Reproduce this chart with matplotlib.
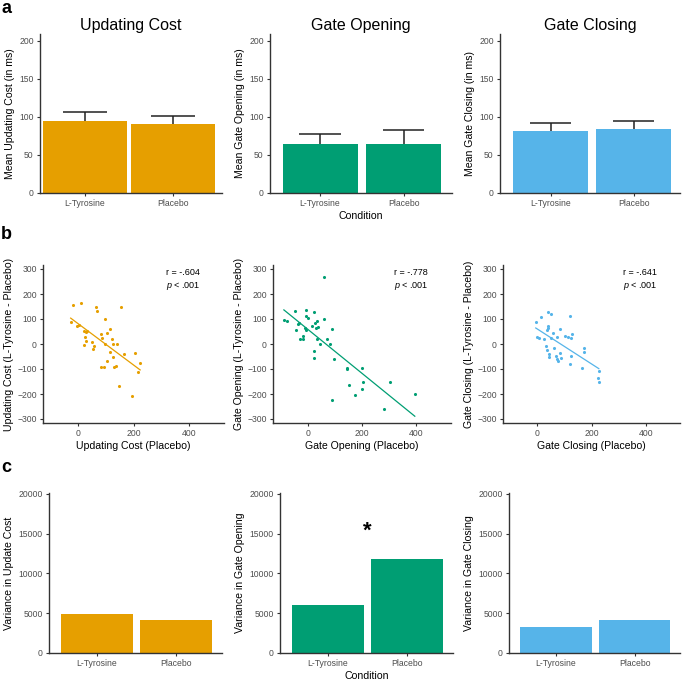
import numpy as np
import matplotlib
matplotlib.use('Agg')
import matplotlib.pyplot as plt

plt.rcParams['font.family'] = ['Liberation Sans', 'DejaVu Sans']
plt.rcParams['mathtext.fontset'] = 'custom'
plt.rcParams['mathtext.it'] = 'Liberation Sans:italic'
plt.rcParams['mathtext.rm'] = 'Liberation Sans'

# colours (Okabe-Ito)
cols = ['#E69F00', '#009E73', '#56B4E9']

conditions = ['L-Tyrosine', 'Placebo']
titles = ['Updating Cost', 'Gate Opening', 'Gate Closing']

# row a: means and upper error (mean + se)
mean_vals = [[95, 91], [64, 65], [82, 84]]
err_top = [[107, 101], [77, 83], [92, 94]]
mean_ylabels = ['Mean Updating Cost (in ms)', 'Mean Gate Opening (in ms)', 'Mean Gate Closing (in ms)']

# row b: scatter, x = placebo, y = L-Tyrosine - Placebo
upd_x = [-27, -18, 10, -4, 2, 22, 28, 33, 25, 30, 22, 51, 57, 53, 64, 67, 98, 81, 86, 98,
         105, 115, 121, 127, 139, 115, 125, 105, 81, 95, 131, 136, 155, 166, 147, 194, 205, 216, 224]
upd_y = [89, 156, 165, 72, 76, 52, 49, 53, 29, 13, -4, 9, -7, -20, 149, 133, 102, 40, 23, 0,
         45, 60, 19, -1, -1, -31, -51, -68, -93, -93, -93, -88, 149, -41, -168, -208, -35, -110, -75]
open_x = [-87, -75, -45, -42, -36, -30, -27, -15, -18, -6, -5, 2, -8, -4, 18, 24, 28, 33, 30, 39,
          36, 46, 22, 22, 61, 62, 73, 81, 91, 97, 91, 145, 145, 152, 176, 200, 204, 200, 303, 282, 394]
open_y = [96, 92, 132, 56, 80, 85, 19, 19, 32, 136, 114, 106, 63, 56, 73, 129, 85, 92, 63, 67,
          19, -1, -28, -55, 269, 100, 19, 0, 60, -60, -223, -97, -101, -164, -204, -97, -153, -181, -150, -261, -200]
close_x = [-6, -2, 6, 13, 26, 32, 37, 40, 38, 39, 37, 44, 44, 49, 50, 56, 61, 71, 68, 74,
           77, 83, 87, 83, 101, 113, 120, 123, 128, 126, 122, 166, 174, 174, 223, 227, 227]
close_y = [89, 27, 23, 109, 19, -7, -24, 129, 72, 63, 56, -41, -53, 122, 23, 45, -15, 29, -47, -60,
           -68, 60, -55, -35, 32, 27, 112, 23, 40, -47, -81, -95, -17, -31, -137, -150, -106]
scatter_x = [upd_x, open_x, close_x]
scatter_y = [upd_y, open_y, close_y]
r_text = ['r = -.604', 'r = -.778', 'r = -.641']
sc_xlabels = ['Updating Cost (Placebo)', 'Gate Opening (Placebo)', 'Gate Closing (Placebo)']
sc_ylabels = ['Updating Cost (L-Tyrosine - Placebo)', 'Gate Opening (L-Tyrosine - Placebo)',
              'Gate Closing (L-Tyrosine - Placebo)']

# row c: variances
var_vals = [[4950, 4120], [6050, 11820], [3280, 4120]]
var_ylabels = ['Variance in Update Cost', 'Variance in Gate Opening', 'Variance in Gate Closing']

W, H = 684, 681
fig = plt.figure(figsize=(W / 100, H / 100), dpi=100)


def px_axes(l, t, r, b):
    return fig.add_axes([l / W, 1 - b / H, (r - l) / W, (b - t) / H])


def style(ax):
    for s in ['top', 'right']:
        ax.spines[s].set_visible(False)
    for s in ['left', 'bottom']:
        ax.spines[s].set_color('#333333')
        ax.spines[s].set_linewidth(1.0)
    ax.tick_params(colors='#333333', labelcolor='#4D4D4D', labelsize=6.2, length=2.5, width=0.8, pad=2)


lbl = 7.6
row_a = [(40, 34, 222, 193), (270, 34, 452, 193), (500, 34, 680, 193)]
row_b = [(43, 265, 224, 423), (273, 265, 451, 423), (503, 265, 680, 423)]
row_c = [(49, 493, 222, 653), (280, 493, 453, 653), (509, 493, 680, 653)]
a_xlim = [(0.49, 2.56), (0.40, 2.58), (0.39, 2.56)]
a_width = [0.95, 0.9, 0.9]
pos = np.arange(1, 3)

for i in range(3):
    # row a
    ax = px_axes(*row_a[i])
    style(ax)
    ax.vlines(pos, mean_vals[i], err_top[i], color='#222222', lw=1.1, zorder=1)
    ax.hlines(err_top[i], pos - 0.25, pos + 0.25, color='#222222', lw=1.1, zorder=1)
    ax.bar(pos, mean_vals[i], width=a_width[i], color=cols[i], zorder=2)
    ax.set_xlim(*a_xlim[i])
    ax.set_ylim(0, 209)
    ax.set_yticks([0, 50, 100, 150, 200])
    ax.set_xticks(pos)
    ax.set_xticklabels(conditions)
    ax.set_ylabel(mean_ylabels[i], fontsize=lbl, labelpad=3)
    ax.set_title(titles[i], fontsize=11.5, pad=3)
    if i == 1:
        ax.set_xlabel('Condition', fontsize=lbl, labelpad=2)

    # row b
    ax = px_axes(*row_b[i])
    style(ax)
    x = np.array(scatter_x[i], dtype=float)
    y = np.array(scatter_y[i], dtype=float)
    ax.scatter(x, y, s=5, color=cols[i], linewidths=0)
    k, c = np.polyfit(x, y, 1)
    xx = np.array([x.min(), x.max()])
    ax.plot(xx, k * xx + c, color=cols[i], lw=0.9)
    ax.set_xlim(-127, 527)
    ax.set_ylim(-316, 316)
    ax.set_xticks([0, 200, 400])
    ax.set_yticks([-300, -200, -100, 0, 100, 200, 300])
    ax.set_xlabel(sc_xlabels[i], fontsize=lbl, labelpad=2)
    ax.set_ylabel(sc_ylabels[i], fontsize=lbl, labelpad=2)
    ax.text(0.68, 0.955, r_text[i], transform=ax.transAxes, fontsize=6.5, va='center', ha='left')
    ax.text(0.68, 0.87, r'$p$ < .001', transform=ax.transAxes, fontsize=6.5, va='center', ha='left')

    # row c
    ax = px_axes(*row_c[i])
    style(ax)
    ax.bar(pos, var_vals[i], width=0.91, color=cols[i])
    ax.set_xlim(0.4, 2.58)
    ax.set_ylim(0, 20100)
    ax.set_yticks([0, 5000, 10000, 15000, 20000])
    ax.set_xticks(pos)
    ax.set_xticklabels(conditions)
    ax.set_ylabel(var_ylabels[i], fontsize=lbl, labelpad=3)
    if i == 1:
        ax.set_xlabel('Condition', fontsize=lbl, labelpad=2)
        ax.text(1.5, 15300, '*', fontsize=16, fontweight='bold', ha='center', va='center')

for letter, yb in [('a', 13), ('b', 239), ('c', 472)]:
    fig.text(1 / W, 1 - yb / H, letter, fontsize=13, fontweight='bold', va='baseline', ha='left')

fig.savefig('out.png', dpi=100)
